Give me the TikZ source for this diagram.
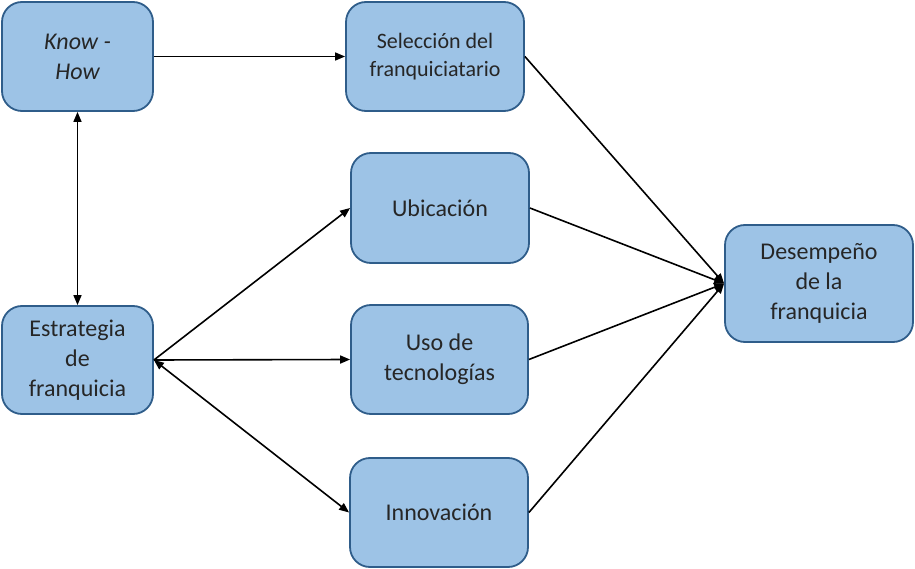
\documentclass[tikz,border=0pt]{standalone}
\usepackage{fontspec}
\setmainfont{Carlito}
\usetikzlibrary{arrows.meta}
\definecolor{boxfill}{HTML}{9DC3E6}
\definecolor{boxdraw}{HTML}{2F5D8A}
\begin{document}
\begin{tikzpicture}[x=1pt,y=-1pt,
  box/.style={draw=boxdraw,fill=boxfill,line width=1.8pt,rounded corners=20pt,
    align=center,inner sep=0pt,font=\fontsize{24}{30}\selectfont,text=black!85},
  conn/.style={line width=1.6pt,-{Triangle[length=10pt,width=8pt]}},
  conn2/.style={line width=1.6pt,{Triangle[length=10pt,width=8pt]}-{Triangle[length=10pt,width=8pt]}}]
\useasboundingbox (0,0) rectangle (915,569);
\node[box,minimum width=151pt,minimum height=109pt] (know) at (77.5,56.5) {\itshape Know -\\\itshape How};
\node[box,minimum width=178pt,minimum height=109pt,font=\fontsize{22}{28}\selectfont] (sel) at (435,56.5) {Selección del\\franquiciatario};
\node[box,minimum width=178pt,minimum height=110pt] (ubi) at (440,208) {Ubicación};
\node[box,minimum width=177pt,minimum height=109pt] (uso) at (439.5,359.5) {Uso de\\tecnologías};
\node[box,minimum width=178pt,minimum height=109pt] (inn) at (439,512.5) {Innovación};
\node[box,minimum width=151pt,minimum height=108pt] (est) at (77.5,360) {Estrategia\\de\\franquicia};
\node[box,minimum width=188pt,minimum height=117pt] (des) at (819,283.5) {Desempeño\\de la\\franquicia};
\draw[conn] (know.east) -- (sel.west);
\draw[conn2] (know.south) -- (est.north);
\draw[conn] (est.east) -- (ubi.west);
\draw[conn] (est.east) -- (uso.west);
\draw[conn2] (est.east) -- (inn.west);
\draw[conn] (sel.east) -- (des.west);
\draw[conn] (ubi.east) -- (des.west);
\draw[conn] (uso.east) -- (des.west);
\draw[conn] (inn.east) -- (des.west);
\end{tikzpicture}
\end{document}
